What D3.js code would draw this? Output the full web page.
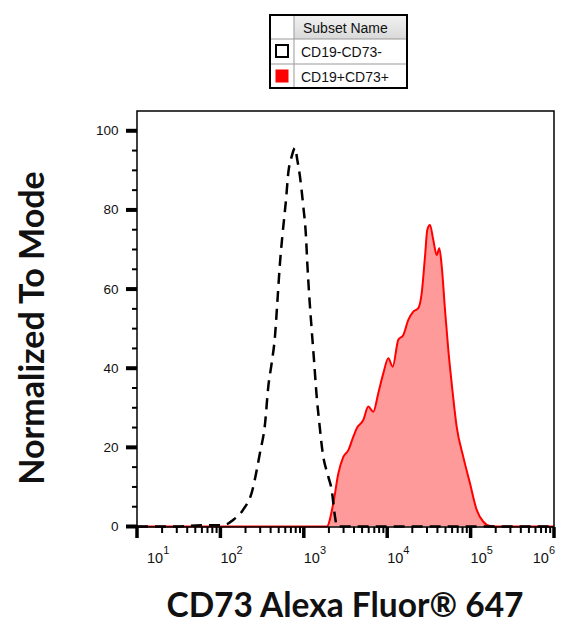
<!DOCTYPE html>
<html>
<head>
<meta charset="utf-8">
<script src="https://cdn.jsdelivr.net/npm/d3@7"></script>
<style>
  html, body { margin: 0; padding: 0; background: #fff; }
  svg { display: block; }
</style>
</head>
<body>
<svg id="chart" width="575" height="636"></svg>
<script>
// ---------- data ----------
const legendTitle = "Subset Name";
const seriesNames = ["CD19-CD73-", "CD19+CD73+"];

const xTickValues = [1e1, 1e2, 1e3, 1e4, 1e5, 1e6];
const xTickExponents = ["1", "2", "3", "4", "5", "6"];
const yTickValues = [0, 20, 40, 60, 80, 100];

// CD19-CD73- (dashed black)
const negX = [10, 30, 60, 100, 120, 141, 187, 237, 298, 343, 375, 412, 451, 481, 518, 558, 612, 652, 716, 784, 835, 900, 986, 1062, 1101, 1164, 1244, 1325, 1428, 1534, 1685, 1967, 2161, 2367, 2502, 1e6];
const negY = [0, 0, 0.3, 0.3, 0.6, 1.6, 4.2, 8.5, 18.6, 26, 35.3, 41.3, 48, 56.5, 66.6, 74.2, 82.6, 89.4, 93.5, 95.7, 92.7, 88.4, 80.9, 73.3, 66.6, 58.1, 49.7, 42.1, 32.8, 26.2, 18.6, 12.6, 9.2, 2.5, 0, 0];

// CD19+CD73+ (filled red)
const posX = [10, 1500, 1884, 2259, 2594, 2978, 3419, 3926, 4309, 5166, 5931, 6810, 7820, 8980, 10310, 11640, 13590, 15600, 17910, 20560, 23610, 25930, 28390, 30270, 32600, 35720, 39260, 42170, 45080, 49350, 54070, 59310, 68100, 81700, 98300, 118300, 142000, 170900, 200000, 1e6];
const posY = [0, 0, 0, 5.9, 13.4, 17.6, 19.3, 22.7, 24.8, 26.9, 30.3, 29.0, 33.7, 38.7, 42.5, 40.4, 47.2, 48.4, 52.2, 54.3, 55.2, 59.0, 68.2, 75.0, 76.2, 72.4, 68.6, 70.3, 65.7, 54.7, 44.6, 36.2, 25.2, 17.6, 10.9, 4.2, 1.2, 0.1, 0, 0];

const xTitle = "CD73 Alexa Fluor® 647";
const yTitle = "Normalized To Mode";

// ---------- layout ----------
const L = 137, R = 554, T = 111, B = 527;
const svg = d3.select("#chart");

const x = d3.scaleLog().domain([1e1, 1e6]).range([L, R]);
const y = d3.scaleLinear().domain([0, 105]).range([526.5, T]);

const neg = negX.map((v, i) => ({ x: v, y: negY[i] }));
const pos = posX.map((v, i) => ({ x: v, y: posY[i] }));

// red filled histogram
const area = d3.area().x(d => x(d.x)).y0(y(0)).y1(d => y(d.y)).curve(d3.curveMonotoneX);
const line = d3.line().x(d => x(d.x)).y(d => y(d.y)).curve(d3.curveMonotoneX);

svg.append("path").datum(pos).attr("d", area).attr("fill", "#ff9a9a");
svg.append("path").datum(pos).attr("d", line)
  .attr("fill", "none").attr("stroke", "#ff0000").attr("stroke-width", 2);

svg.append("path").datum(neg).attr("d", line)
  .attr("fill", "none").attr("stroke", "#000").attr("stroke-width", 2.5)
  .attr("stroke-dasharray", "11,7");

// frame
svg.append("rect").attr("x", L).attr("y", T).attr("width", R - L).attr("height", B - T)
  .attr("fill", "none").attr("stroke", "#000").attr("stroke-width", 1.5);

// x axis ticks
const xMinor = [];
for (let e = 1; e < 6; e++) for (let k = 2; k <= 9; k++) xMinor.push(k * Math.pow(10, e));
svg.append("g").selectAll("line").data(xMinor).join("line")
  .attr("x1", d => x(d)).attr("x2", d => x(d)).attr("y1", B).attr("y2", B + 6)
  .attr("stroke", "#000").attr("stroke-width", 2);
svg.append("g").selectAll("line").data(xTickValues).join("line")
  .attr("x1", d => x(d)).attr("x2", d => x(d)).attr("y1", B).attr("y2", B + 11)
  .attr("stroke", "#000").attr("stroke-width", 3.5);

const xl = svg.append("g").selectAll("text").data(xTickValues).join("text")
  .attr("y", 563).attr("font-family", "Liberation Sans, Arial, sans-serif")
  .attr("font-size", 14.5).attr("fill", "#111");
xl.append("tspan").text("10");
xl.append("tspan").attr("dy", -9).attr("font-size", 11).text((d, i) => xTickExponents[i]);
xl.each(function (d) {
  const w = this.getComputedTextLength();
  let px = x(d);
  px = Math.max(px, L + 10);
  px = Math.min(px, R + 1 - w);
  d3.select(this).attr("x", px);
});

// y axis ticks
const yMinor = d3.range(0, 101, 5).filter(v => v % 20 !== 0);
svg.append("g").selectAll("line").data(yMinor).join("line")
  .attr("x1", L - 5).attr("x2", L).attr("y1", d => y(d)).attr("y2", d => y(d))
  .attr("stroke", "#000").attr("stroke-width", 2);
svg.append("g").selectAll("line").data(yTickValues).join("line")
  .attr("x1", L - 11).attr("x2", L).attr("y1", d => y(d)).attr("y2", d => y(d))
  .attr("stroke", "#000").attr("stroke-width", 4);
svg.append("g").selectAll("text").data(yTickValues).join("text")
  .attr("x", 118.5).attr("y", d => y(d) + 4.5).attr("text-anchor", "end")
  .attr("font-family", "Liberation Sans, Arial, sans-serif").attr("font-size", 13.5)
  .attr("fill", "#111").text(d => d);

// axis titles
svg.append("text").attr("x", 345).attr("y", 617).attr("text-anchor", "middle")
  .attr("font-family", "Lato, sans-serif").attr("font-weight", 700).attr("font-size", 33.5)
  .attr("fill", "#111").text(xTitle);
svg.append("text").attr("transform", "translate(44,328) rotate(-90)").attr("text-anchor", "middle")
  .attr("font-family", "Lato, sans-serif").attr("font-weight", 700).attr("font-size", 34)
  .attr("fill", "#111").text(yTitle);

// legend
const lg = svg.append("g");
const defs = svg.append("defs");
const grad = defs.append("linearGradient").attr("id", "hdr").attr("x1", 0).attr("x2", 0).attr("y1", 0).attr("y2", 1);
grad.append("stop").attr("offset", "0%").attr("stop-color", "#f2f2f2");
grad.append("stop").attr("offset", "100%").attr("stop-color", "#d9d9d9");
const lgX = 270, lgY = 15, lgW = 137, colW = 24, rowH = [24, 25, 24];
lg.append("rect").attr("x", lgX + colW).attr("y", lgY).attr("width", lgW - colW).attr("height", rowH[0]).attr("fill", "url(#hdr)");
lg.append("line").attr("x1", lgX + colW).attr("x2", lgX + colW).attr("y1", lgY).attr("y2", lgY + 73).attr("stroke", "#999").attr("stroke-width", 1);
lg.append("line").attr("x1", lgX).attr("x2", lgX + lgW).attr("y1", lgY + rowH[0]).attr("y2", lgY + rowH[0]).attr("stroke", "#999").attr("stroke-width", 1);
lg.append("line").attr("x1", lgX).attr("x2", lgX + lgW).attr("y1", lgY + rowH[0] + rowH[1]).attr("y2", lgY + rowH[0] + rowH[1]).attr("stroke", "#999").attr("stroke-width", 1);
lg.append("rect").attr("x", lgX).attr("y", lgY).attr("width", lgW).attr("height", 73)
  .attr("fill", "none").attr("stroke", "#000").attr("stroke-width", 2);
lg.append("text").attr("x", lgX + 33).attr("y", lgY + 18).attr("font-family", "Liberation Sans, Arial, sans-serif")
  .attr("font-size", 14).attr("fill", "#111").text(legendTitle);
seriesNames.forEach((name, i) => {
  const ry = lgY + rowH[0] + i * 25;
  lg.append("rect").attr("x", lgX + 6).attr("y", ry + 6).attr("width", 12).attr("height", 12)
    .attr("fill", i === 0 ? "#fff" : "#ff0000").attr("stroke", i === 0 ? "#000" : "#ff0000").attr("stroke-width", i === 0 ? 2 : 1);
  lg.append("text").attr("x", lgX + 31).attr("y", ry + 18).attr("font-family", "Liberation Sans, Arial, sans-serif")
    .attr("font-size", 14).attr("fill", "#111").text(name);
});
</script>
</body>
</html>
